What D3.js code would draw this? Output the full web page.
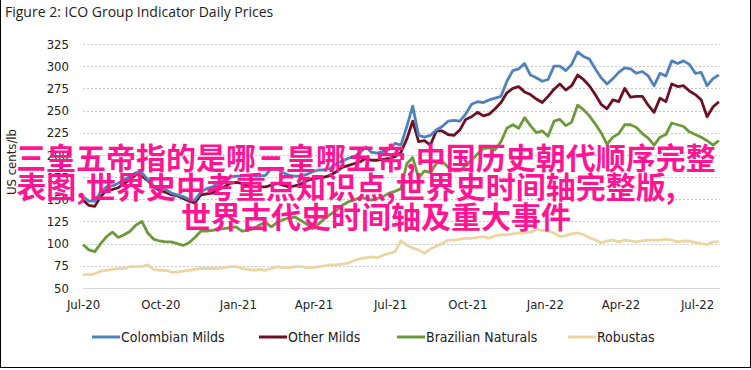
<!DOCTYPE html>
<html>
<head>
<meta charset="utf-8">
<script src="https://cdn.jsdelivr.net/npm/d3@7"></script>
<style>
  body { margin: 0; background: #fff; }
  svg { display: block; }
  .tick text { font-family: "Liberation Sans Narrow", "DejaVu Sans Condensed", sans-serif; font-size: 13px; fill: #222; }
</style>
</head>
<body>
<div id="chart"></div>
<script>
// weekly points, first one on 1 Jul 2020
var startDate = new Date(2020, 6, 1);

var colombian = [153,148,148,158,164,165,168,172,176,180,180,172,165,162,161,157,155,153,150,149,158,162,164,169,172,175,176,176,
  177,176,176,177,185,184,180,177,176,176,178,181,183,183,185,190,193,196,198,202,209,203,202,204,206,213,
  211,232,255,222,220,222,228,232,238,239,238,246,257,260,259,262,264,266,283,295,297,303,290,287,283,285,300,
  300,295,302,316,311,308,297,287,280,286,293,298,297,292,294,289,278,292,289,306,303,306,302,292,293,278,286,290];

var otherMilds = [149,143,142,153,160,161,163,168,172,178,176,171,164,160,158,155,154,151,148,146,155,156,157,161,164,168,169,168,
  165,164,164,164,166,168,166,164,165,167,171,173,174,175,177,181,186,188,190,192,196,194,194,195,196,198,
  203,218,238,215,216,211,227,227,223,222,228,240,243,248,244,246,252,259,270,275,277,271,268,263,259,266,274,
  280,273,278,290,285,278,268,257,252,262,260,275,265,266,266,256,248,264,260,280,277,278,272,268,262,243,254,260];

var brazilian = [99,93,91,100,108,113,107,110,114,121,125,112,105,103,102,102,100,98,101,107,114,114,115,116,117,118,119,114,
  115,117,121,124,119,124,127,129,130,126,122,117,122,128,133,137,143,147,149,152,151,149,151,153,157,159,
  162,190,197,174,182,180,190,193,186,182,182,188,194,201,207,208,206,215,230,234,230,242,233,225,227,221,238,
  240,233,237,256,251,244,235,225,212,220,224,234,234,231,224,219,211,220,223,236,234,232,226,223,220,216,211,216];

var robustas = [65,65,66,69,70,71,72,72,74,74,74,76,71,70,70,68,68,69,70,71,72,72,72,72,73,74,74,72,
  71,70,71,70,72,74,73,73,74,74,73,73,74,75,76,76,77,78,81,83,84,85,84,87,89,91,
  103,98,95,93,89,94,97,100,104,104,105,106,106,107,108,106,109,110,110,111,112,112,113,116,115,114,112,
  108,109,111,112,110,107,104,101,103,104,102,104,103,102,103,104,104,104,105,104,102,103,103,101,100,99,102,102];

var dates = colombian.map(function(d, i) { return d3.timeDay.offset(startDate, i * 7); });

var seriesNames = ["Colombian Milds", "Other Milds", "Brazilian Naturals", "Robustas"];
var seriesColors = ["#4f81bd", "#6e1024", "#6c9a3b", "#ebd6a3"];
var seriesValues = [colombian, otherMilds, brazilian, robustas];

var xTickLabels = ["Jul-20","Oct-20","Jan-21","Apr-21","Jul-21","Oct-21","Jan-22","Apr-22","Jul-22"];
var yTicks = [50,75,100,125,150,175,200,225,250,275,300,325];

var watermark = ["三皇五帝指的是哪三皇哪五帝,中国历史朝代顺序完整",
                 "表图,世界史中考重点知识点,世界史时间轴完整版,",
                 "世界古代史时间轴及重大事件"];

var width = 751, height = 370;

var svg = d3.select("#chart").append("svg")
    .attr("width", width)
    .attr("height", height);

// frame
svg.append("rect")
   .attr("x", 0.5).attr("y", -2)
   .attr("width", width - 1).attr("height", height - 0.5)
   .attr("fill", "none").attr("stroke", "#000").attr("stroke-width", 1);

svg.append("text")
   .attr("x", 5).attr("y", 17)
   .text("Figure 2: ICO Group Indicator Daily Prices")
   .style("font-family", "'Open Sans', sans-serif")
   .style("font-size", "14px")
   .style("fill", "#222");

var xScale = d3.scaleTime()
    .domain([new Date(2020, 6, 1), new Date(2022, 6, 1)])
    .range([83, 697]);

var yScale = d3.scaleLinear()
    .domain([50, 325])
    .range([288, 44]);

var plotRight = xScale(dates[dates.length - 1]) + 1;

// dotted gridlines
svg.append("g").selectAll("line")
   .data(yTicks.slice(1))
   .enter().append("line")
   .attr("x1", 83).attr("x2", plotRight)
   .attr("y1", function(d) { return Math.round(yScale(d)) + 0.5; })
   .attr("y2", function(d) { return Math.round(yScale(d)) + 0.5; })
   .attr("stroke", "#c8c8c8")
   .attr("stroke-dasharray", "2,2");

svg.append("line")
   .attr("x1", 83).attr("x2", plotRight)
   .attr("y1", Math.round(yScale(50)) + 0.5).attr("y2", Math.round(yScale(50)) + 0.5)
   .attr("stroke", "#d4d4d4");

// y axis
var yAxis = d3.axisLeft(yScale).tickValues(yTicks).tickSize(0).tickPadding(14);
var yAxisGroup = svg.append("g")
   .attr("transform", "translate(83,0)")
   .call(yAxis);
yAxisGroup.select(".domain").remove();

// x axis
var tickDates = xTickLabels.map(function(s) { return d3.timeParse("%b-%y")(s); });
var xAxis = d3.axisBottom(xScale).tickValues(tickDates)
   .tickFormat(d3.timeFormat("%b-%y")).tickSize(0).tickPadding(11);
var xAxisGroup = svg.append("g")
   .attr("transform", "translate(0,289)")
   .call(xAxis);
xAxisGroup.select(".domain").remove();

svg.append("text")
   .attr("transform", "translate(16,162) rotate(-90)")
   .attr("text-anchor", "middle")
   .text("US cents/lb")
   .style("font-family", "'Liberation Sans Narrow', 'DejaVu Sans Condensed', sans-serif")
   .style("font-size", "13px")
   .style("fill", "#222");

// lines, drawn back to front
var line = d3.line()
   .x(function(d, i) { return xScale(dates[i]); })
   .y(function(d) { return yScale(d); });

[3, 2, 1, 0].forEach(function(k) {
  svg.append("path")
     .datum(seriesValues[k])
     .attr("d", line)
     .attr("fill", "none")
     .attr("stroke", seriesColors[k])
     .attr("stroke-width", 2.8)
     .attr("stroke-linejoin", "round");
});

// legend
var legendX = [92, 259, 397, 568];
var legend = svg.append("g").selectAll("g")
   .data(seriesNames)
   .enter().append("g")
   .attr("transform", function(d, i) { return "translate(" + legendX[i] + ",337)"; });
legend.append("line")
   .attr("x1", 0).attr("x2", 28)
   .attr("stroke", function(d, i) { return seriesColors[i]; })
   .attr("stroke-width", 3);
legend.append("text")
   .attr("x", 29).attr("y", 5)
   .text(function(d) { return d; })
   .style("font-family", "'Liberation Sans Narrow', 'DejaVu Sans Condensed', sans-serif")
   .style("font-size", "14px")
   .style("fill", "#222");

// pink overlay text
var wmX = [366, 346, 376], wmY = [169, 198, 228];
svg.append("g").selectAll("text")
   .data(watermark)
   .enter().append("text")
   .attr("x", function(d, i) { return wmX[i]; })
   .attr("y", function(d, i) { return wmY[i]; })
   .attr("text-anchor", "middle")
   .text(function(d) { return d; })
   .style("font-family", "'Noto Sans CJK SC', sans-serif")
   .style("font-weight", "bold")
   .style("font-size", "30px")
   .style("fill", "#ff1493");
</script>
</body>
</html>
